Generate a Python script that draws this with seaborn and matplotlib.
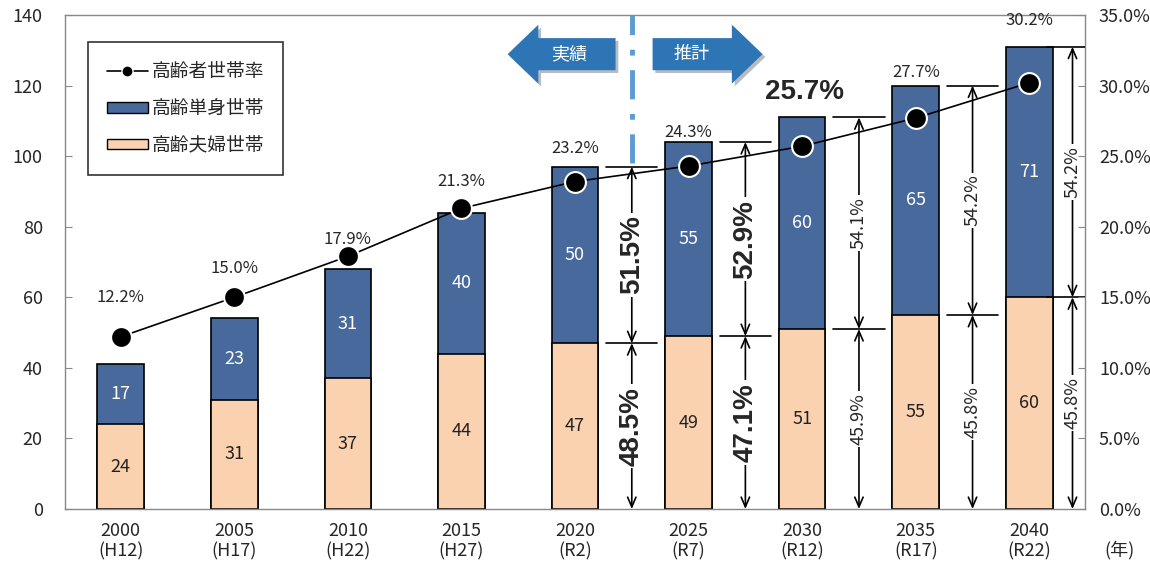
import numpy as np
import pandas as pd
import matplotlib
matplotlib.use('Agg')
import matplotlib.pyplot as plt
import matplotlib.patheffects as pe
from matplotlib.patches import FancyArrow, Patch
from matplotlib.lines import Line2D
import seaborn as sns

# data
years = ['2000', '2005', '2010', '2015', '2020', '2025', '2030', '2035', '2040']
eras = ['H12', 'H17', 'H22', 'H27', 'R2', 'R7', 'R12', 'R17', 'R22']
couple = [24, 31, 37, 44, 47, 49, 51, 55, 60]      # 高齢夫婦世帯
single = [17, 23, 31, 40, 50, 55, 60, 65, 71]      # 高齢単身世帯
rate = [12.2, 15.0, 17.9, 21.3, 23.2, 24.3, 25.7, 27.7, 30.2]  # 高齢者世帯率
share_single = [51.5, 52.9, 54.1, 54.2, 54.2]      # 2020-2040
share_couple = [48.5, 47.1, 45.9, 45.8, 45.8]

BLUE = '#47699B'
PEACH = '#FAD2B0'
ARROW_BLUE = '#2E75B6'

sns.set_style('white')
plt.rcParams['font.family'] = ['Noto Sans CJK JP', 'DejaVu Sans']

df = pd.DataFrame({'year': years, 'couple': couple, 'single': single})
df['total'] = df['couple'] + df['single']

fig = plt.figure(figsize=(11.5, 5.66), dpi=100)
ax = fig.add_axes([65 / 1150, 57 / 566, 1020 / 1150, 494 / 566])

bw = 0.41
sns.barplot(data=df, x='year', y='total', color=BLUE, saturation=1, width=bw,
            edgecolor='black', linewidth=1.2, errorbar=None, ax=ax)
sns.barplot(data=df, x='year', y='couple', color=PEACH, saturation=1, width=bw,
            edgecolor='black', linewidth=1.2, errorbar=None, ax=ax)

# segment labels
for i, row in df.iterrows():
    ax.text(i, row['couple'] / 2, str(row['couple']), ha='center', va='center',
            fontsize=13, color='#222222')
    ax.text(i, row['couple'] + row['single'] / 2, str(row['single']), ha='center',
            va='center', fontsize=13, color='white')

ax.set_xlim(-0.49, 8.49)
ax.set_ylim(0, 140)
ax.set_yticks(range(0, 141, 20))
ax.set_xticks(range(len(years)))
ax.set_xticklabels([f'{y}\n({e})' for y, e in zip(years, eras)], fontsize=13, linespacing=1.2)
ax.set_xticks(np.arange(0.5, 8, 1), minor=True)
ax.tick_params(axis='x', which='major', length=0, pad=9)
ax.tick_params(axis='x', which='minor', direction='in', length=5, color='#666666')
ax.tick_params(axis='y', direction='in', length=5, color='#888888', labelsize=13, pad=16)
ax.set_xlabel('')
ax.set_ylabel('')
for s in ax.spines.values():
    s.set_color('#888888')
    s.set_linewidth(1)

# dimension annotations (2020 onwards)
dim_x = [4.5, 5.5, 6.5, 7.5, 8.38]
big = [True, True, False, False, False]
hw = 0.225
for k, xpos in enumerate(dim_x):
    i = 4 + k
    split = couple[i]
    top = couple[i] + single[i]
    for yy in (split, top):
        ax.plot([xpos - hw, min(xpos + hw, 8.49)], [yy, yy], color='black', lw=1.2, zorder=3)
    arr = dict(arrowstyle='<->,head_length=0.7,head_width=0.3', color='black', lw=1.2,
               shrinkA=0, shrinkB=0)
    ax.annotate('', xy=(xpos, 0), xytext=(xpos, split), arrowprops=arr, zorder=3)
    ax.annotate('', xy=(xpos, split), xytext=(xpos, top), arrowprops=arr, zorder=3)
    if big[k]:
        kw = dict(fontsize=20, fontweight='bold', family=['Liberation Sans', 'DejaVu Sans'])
    else:
        kw = dict(fontsize=13)
    box = dict(boxstyle='square,pad=0.1', fc='white', ec='none')
    ax.text(xpos, (split + top) / 2, f'{share_single[k]}%', rotation=90, ha='center',
            va='center', bbox=box, zorder=4, **kw)
    ax.text(xpos, split / 2, f'{share_couple[k]}%', rotation=90, ha='center',
            va='center', bbox=box, zorder=4, **kw)

# actual / projection divider and arrows
ax.plot([4.5, 4.5], [98, 140], color='#5B9BD5', lw=3.5, ls=(0, (6, 3, 1.2, 3)), zorder=2)
shadow = [pe.SimplePatchShadow(offset=(2, -2), alpha=0.3), pe.Normal()]
for x0, dx, label, tx in [(4.357, -0.95, '実績', 3.95), (4.683, 0.968, '推計', 5.03)]:
    a = FancyArrow(x0, 128.9, dx, 0, width=9.1, head_width=16.7, head_length=0.27,
                   length_includes_head=True, fc=ARROW_BLUE, ec='none', zorder=5)
    a.set_path_effects(shadow)
    ax.add_patch(a)
    ax.text(tx, 128.9, label, color='white', fontsize=13, ha='center', va='center', zorder=6)

# rate line on secondary axis
ax2 = ax.twinx()
sns.lineplot(x=np.arange(len(rate)), y=rate, ax=ax2, color='black', lw=1.2, marker='o',
             markersize=15, markerfacecolor='black', markeredgecolor='white',
             markeredgewidth=1.5, legend=False, zorder=7)
ax2.set_ylim(0, 35)
ax2.set_yticks(np.arange(0, 36, 5))
ax2.set_yticklabels([f'{v:.1f}%' for v in np.arange(0, 36, 5)])
ax2.tick_params(axis='y', direction='in', length=5, color='#888888', labelsize=13, pad=10)
for s in ax2.spines.values():
    s.set_visible(False)

label_dy = [28, 21, 12, 19, 24, 24, 39, 33, 45]  # offsets in points
for i, r in enumerate(rate):
    if i == 6:
        ax2.annotate(f'{r}%', (i, r), xytext=(2, label_dy[i]), textcoords='offset points',
                     ha='center', va='center', fontsize=20, fontweight='bold',
                     family=['Liberation Sans', 'DejaVu Sans'])
    else:
        ax2.annotate(f'{r}%', (i, r), xytext=(0, label_dy[i]), textcoords='offset points',
                     ha='center', va='center', fontsize=12)

handles = [
    Line2D([], [], color='black', lw=1.2, marker='o', markersize=8,
           markerfacecolor='black', markeredgecolor='white'),
    Patch(facecolor=BLUE, edgecolor='black'),
    Patch(facecolor=PEACH, edgecolor='black'),
]
leg = ax2.legend(handles, ['高齢者世帯率', '高齢単身世帯', '高齢夫婦世帯'], loc='upper left',
                 bbox_to_anchor=(0.0225, 0.945), frameon=True, fancybox=False,
                 edgecolor='black', handlelength=2.2, handleheight=0.5, handletextpad=0.2,
                 labelspacing=0.85, borderpad=1.0, borderaxespad=0,
                 prop={'family': ['Noto Sans CJK JP'], 'size': 13.5})
leg.get_frame().set_linewidth(1.2)

fig.text(1120 / 1150, 1 - 550 / 566, '(年)', ha='center', va='center', fontsize=13)

plt.savefig('out.png', dpi=100)
plt.close()
